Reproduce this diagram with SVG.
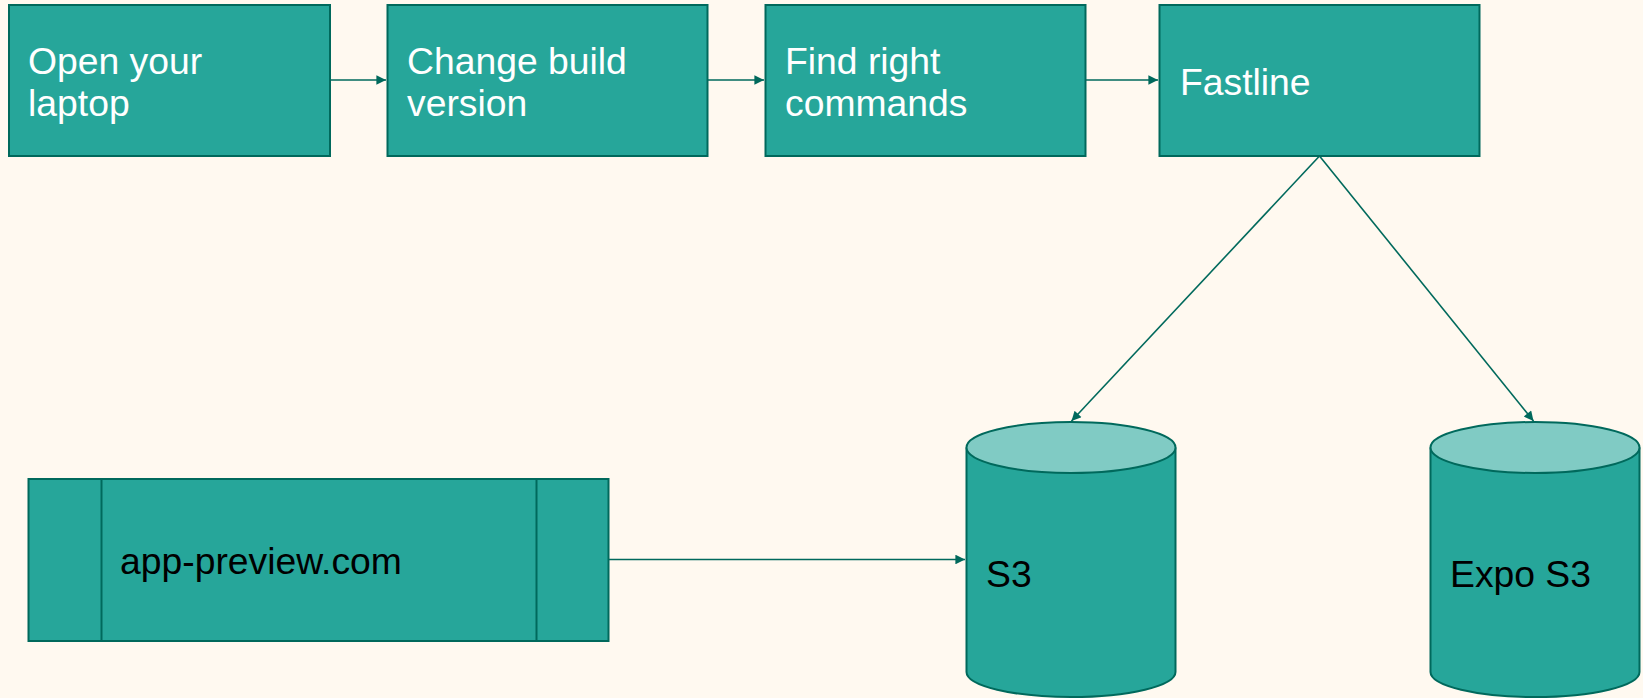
<svg xmlns="http://www.w3.org/2000/svg" width="1643" height="698" viewBox="0 0 1643 698">
<defs>
<style>
.box{fill:#26a69a;stroke:#00695c;stroke-width:2}
.top{fill:#80cbc4;stroke:#00695c;stroke-width:2}
.conn{fill:none;stroke:#00695c;stroke-width:1.6}
.tw{font-family:"Liberation Sans",Arial,sans-serif;font-size:37.3px;fill:#ffffff}
.tb{font-family:"Liberation Sans",Arial,sans-serif;font-size:37.3px;fill:#000000}
</style>
<marker id="arr" viewBox="0 0 10 10" refX="10" refY="5" markerWidth="8" markerHeight="6" markerUnits="strokeWidth" orient="auto">
<path d="M0,0 L10,5 L0,10 z" fill="#00695c"/>
</marker>
</defs>
<rect x="0" y="0" width="1643" height="698" fill="#fff9f0"/>
<g id="n1"><rect class="box" x="9" y="5" width="321" height="151"/><text class="tw" x="28" y="73.5">Open your</text><text class="tw" x="28" y="116">laptop</text></g>
<g id="n2"><rect class="box" x="387.5" y="5" width="320" height="151"/><text class="tw" x="407" y="73.5">Change build</text><text class="tw" x="407" y="116">version</text></g>
<g id="n3"><rect class="box" x="765.5" y="5" width="320" height="151"/><text class="tw" x="785" y="73.5">Find right</text><text class="tw" x="785" y="116">commands</text></g>
<g id="n4"><rect class="box" x="1159.5" y="5" width="320" height="151"/><text class="tw" x="1180" y="95">Fastline</text></g>
<g id="n5"><rect class="box" x="28.5" y="479" width="580" height="162"/><line class="box" x1="101.5" y1="479" x2="101.5" y2="641"/><line class="box" x1="536.5" y1="479" x2="536.5" y2="641"/><text class="tb" x="120" y="574">app-preview.com</text></g>
<g id="n6"><path class="box" d="M966.5,447.5 L966.5,672 A104.5,25 0 0 0 1175.5,672 L1175.5,447.5"/><ellipse class="top" cx="1071" cy="447.5" rx="104.5" ry="25.5"/><text class="tb" x="986" y="587">S3</text></g>
<g id="n7"><path class="box" d="M1430.5,447.5 L1430.5,672 A104.5,25 0 0 0 1639.5,672 L1639.5,447.5"/><ellipse class="top" cx="1535" cy="447.5" rx="104.5" ry="25.5"/><text class="tb" x="1450" y="587">Expo S3</text></g>
<g id="connectors">
<line class="conn" x1="330" y1="80" x2="386" y2="80" marker-end="url(#arr)"/>
<line class="conn" x1="708" y1="80" x2="764" y2="80" marker-end="url(#arr)"/>
<line class="conn" x1="1086" y1="80" x2="1158" y2="80" marker-end="url(#arr)"/>
<line class="conn" x1="1319.5" y1="156" x2="1071.5" y2="421" marker-end="url(#arr)"/>
<line class="conn" x1="1319.5" y1="156" x2="1533.5" y2="421" marker-end="url(#arr)"/>
<line class="conn" x1="609" y1="559.5" x2="965" y2="559.5" marker-end="url(#arr)"/>
</g>
</svg>
